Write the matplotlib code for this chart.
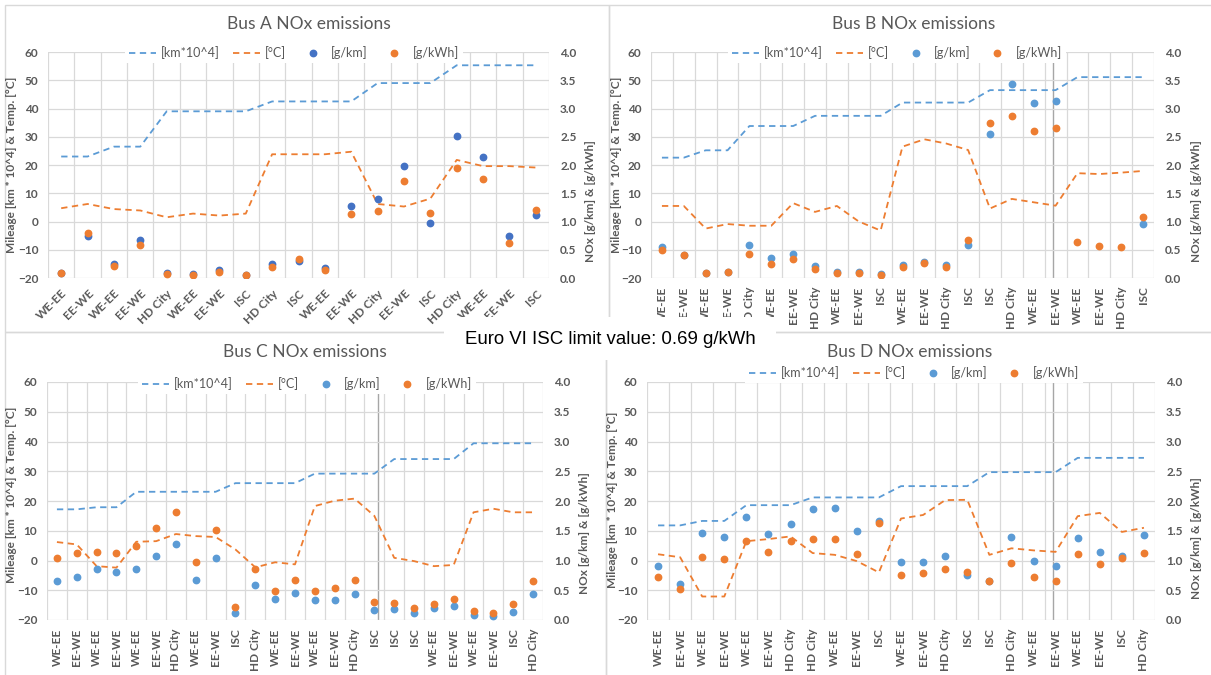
import numpy as np
import matplotlib.pyplot as plt
from matplotlib.patches import Rectangle
from matplotlib.lines import Line2D
from matplotlib.ticker import FormatStrFormatter

plt.rcParams['font.family'] = ['Lato', 'DejaVu Sans']

# canvas size in pixels; panel boxes further down are pixel coords from top-left
W, H = 1211, 675

BLUE = "#5B9BD5"
DARK_BLUE = "#4472C4"
ORANGE = "#ED7D31"
GREY_TXT = "#595959"
GRID = "#D9D9D9"

# Bus A
labels_a = ["WE-EE", "EE-WE", "WE-EE", "EE-WE", "HD City", "WE-EE", "EE-WE", "ISC", "HD City", "ISC",
            "WE-EE", "EE-WE", "HD City", "EE-WE", "ISC", "HD City", "WE-EE", "EE-WE", "ISC"]
mileage_a = [23, 23, 26.5, 26.5, 39, 39, 39, 39, 42.5, 42.5, 42.5, 42.5, 49, 49, 49, 55.3, 55.3, 55.3, 55.3]
temp_a = [4.7, 6.2, 4.4, 3.9, 1.5, 2.8, 2.1, 2.8, 23.8, 23.8, 23.8, 24.7, 6.2, 5.3, 8.1, 21.8, 19.6, 19.6, 19.1]
gkm_a = [0.09, 0.74, 0.25, 0.67, 0.09, 0.07, 0.14, 0.06, 0.25, 0.30, 0.18, 1.27, 1.40, 1.99, 0.97, 2.52, 2.14, 0.74, 1.11]
gkwh_a = [0.09, 0.79, 0.22, 0.59, 0.07, 0.06, 0.11, 0.06, 0.19, 0.34, 0.14, 1.13, 1.18, 1.71, 1.15, 1.94, 1.76, 0.62, 1.20]

# Bus B
labels_b = ["WE-EE", "EE-WE", "WE-EE", "EE-WE", "HD City", "WE-EE", "EE-WE", "HD City", "WE-EE", "EE-WE", "ISC",
            "WE-EE", "EE-WE", "HD City", "ISC", "ISC", "HD City", "WE-EE", "EE-WE", "WE-EE", "EE-WE", "HD City", "ISC"]
mileage_b = [22.6, 22.6, 25.2, 25.2, 33.8, 33.8, 33.8, 37.4, 37.4, 37.4, 37.4, 42.1, 42.1, 42.1, 42.1,
             46.5, 46.5, 46.5, 46.5, 51.1, 51.1, 51.1, 51.1]
temp_b = [5.5, 5.5, -2.5, -0.9, -1.5, -1.5, 6.5, 3.4, 5.5, 0, -3.2, 26.5, 29.1, 27.6, 25.3,
          4.6, 8.0, 6.8, 5.6, 17.1, 16.8, 17.3, 17.9]
gkm_b = [0.55, 0.41, 0.09, 0.11, 0.58, 0.35, 0.42, 0.21, 0.10, 0.11, 0.07, 0.23, 0.28, 0.23, 0.58,
         2.54, 3.44, 3.10, 3.14, np.nan, np.nan, np.nan, 0.96]
gkwh_b = [0.50, 0.40, 0.08, 0.10, 0.43, 0.25, 0.34, 0.16, 0.08, 0.08, 0.06, 0.19, 0.26, 0.20, 0.68,
          2.74, 2.87, 2.60, 2.65, 0.64, 0.56, 0.55, 1.08]

# Bus C
labels_c = ["WE-EE", "EE-WE", "WE-EE", "EE-WE", "WE-EE", "EE-WE", "HD City", "WE-EE", "EE-WE", "ISC", "HD City",
            "WE-EE", "EE-WE", "WE-EE", "EE-WE", "HD City", "ISC", "ISC", "ISC", "WE-EE", "EE-WE", "WE-EE",
            "EE-WE", "ISC", "HD City"]
mileage_c = [17.2, 17.2, 17.9, 17.9, 23.1, 23.1, 23.1, 23.1, 23.1, 26.0, 26.0, 26.0, 26.0,
             29.2, 29.2, 29.2, 29.2, 34.1, 34.1, 34.1, 34.1, 39.4, 39.4, 39.4, 39.4]
temp_c = [6.2, 5.4, -1.9, -2.4, 6.3, 6.5, 8.9, 8.2, 7.9, 3.7, -2.3, -0.6, -1.3, 18.3, 20.1, 20.8, 15.0,
          0.9, -0.2, -1.9, -1.5, 16.2, 17.4, 16.2, 16.2]
gkm_c = [0.66, 0.73, 0.85, 0.81, 0.86, 1.07, 1.28, 0.68, 1.04, 0.11, 0.59, 0.35, 0.46, 0.33, 0.34, 0.44,
         0.17, 0.18, 0.11, 0.20, 0.23, 0.09, 0.06, 0.14, 0.43]
gkwh_c = [1.04, 1.13, 1.15, 1.13, 1.25, 1.54, 1.81, 0.97, 1.52, 0.22, 0.85, 0.48, 0.68, 0.48, 0.53, 0.68,
          0.31, 0.28, 0.20, 0.27, 0.35, 0.15, 0.11, 0.27, 0.66]

# Bus D
labels_d = ["WE-EE", "EE-WE", "WE-EE", "EE-WE", "WE-EE", "EE-WE", "HD City", "HD City", "WE-EE", "EE-WE", "ISC",
            "WE-EE", "EE-WE", "HD City", "ISC", "ISC", "HD City", "WE-EE", "EE-WE", "WE-EE", "EE-WE", "ISC", "HD City"]
mileage_d = [11.8, 11.8, 13.3, 13.3, 18.6, 18.6, 18.6, 21.2, 21.2, 21.2, 21.2, 25.0, 25.0, 25.0, 25.0,
             29.7, 29.7, 29.7, 29.7, 34.5, 34.5, 34.5, 34.5]
temp_d = [2.1, 1.1, -12.1, -12.1, 6.5, 7.2, 8.1, 2.5, 1.9, -0.2, -4.0, 14.1, 15.3, 20.3, 20.4,
          1.9, 4.1, 3.4, 2.9, 14.9, 16.0, 9.6, 11.0]
gkm_d = [0.91, 0.60, 1.47, 1.39, 1.73, 1.44, 1.62, 1.87, 1.89, 1.49, 1.67, 0.97, 0.97, 1.08, 0.76,
         0.66, 1.39, 0.99, 0.91, 1.37, 1.15, 1.08, 1.43]
gkwh_d = [0.73, 0.52, 1.06, 1.03, 1.33, 1.15, 1.33, 1.36, 1.36, 1.11, 1.63, 0.76, 0.79, 0.85, 0.80,
          0.66, 0.95, 0.72, 0.66, 1.11, 0.94, 1.05, 1.13]

series_names = ["[km*10^4]", "[°C]", "[g/km]", "[g/kWh]"]

fig = plt.figure(figsize=(W / 100, H / 100), dpi=100)


def fx(px):
    return px / W


def fy(py):
    return 1 - py / H


def draw_panel(box, labels, mileage, temp, gkm, gkwh, dot_blue, rot, title, title_xy,
               legend_xy, ylab_xy, y2lab_xy, mark_x=None):
    l, t, r, b = box
    ax = fig.add_axes([fx(l), fy(b), (r - l) / W, (b - t) / H])
    ax2 = ax.twinx()
    ax.patch.set_visible(False)
    x = np.arange(len(labels))

    ax.plot(x, mileage, color=BLUE, lw=1.3, dashes=(3.5, 2.5))
    ax.plot(x, temp, color=ORANGE, lw=1.3, dashes=(3.5, 2.5))
    ax2.plot(x, gkm, "o", color=dot_blue, ms=4.6)
    ax2.plot(x, gkwh, "o", color=ORANGE, ms=4.6)

    ax.set_xlim(-0.5, len(labels) - 0.5)
    ax.set_ylim(-20, 60)
    ax.set_yticks(np.arange(-20, 61, 10))
    ax2.set_ylim(0, 4)
    ax2.set_yticks(np.arange(0, 4.01, 0.5))
    ax2.yaxis.set_major_formatter(FormatStrFormatter("%.1f"))

    ax.set_xticks(x)
    if rot == 45:
        ax.set_xticklabels(labels, rotation=45, ha="right", rotation_mode="anchor")
        xpad = 7
    else:
        ax.set_xticklabels(labels, rotation=90)
        xpad = 6
    ax.set_xticks(np.arange(len(labels) + 1) - 0.5, minor=True)
    ax.grid(True, which="minor", axis="x", color=GRID, lw=0.9)
    ax.grid(True, which="major", axis="y", color=GRID, lw=0.9)
    ax.set_axisbelow(True)
    if mark_x is not None:
        ax.axvline(mark_x, color="#A6A6A6", lw=1.0, zorder=0.5)

    for a in (ax, ax2):
        for s in a.spines.values():
            s.set_visible(False)
    ax.tick_params(which="both", length=0, labelsize=8.5, labelcolor=GREY_TXT)
    ax.tick_params(axis="y", pad=7)
    ax.tick_params(axis="x", pad=xpad)
    ax2.tick_params(which="both", length=0, labelsize=8.5, labelcolor=GREY_TXT, pad=8)
    for lbl in ax.get_xticklabels() + ax.get_yticklabels() + ax2.get_yticklabels():
        lbl.set_fontweight("bold")

    handles = [Line2D([], [], color=BLUE, lw=1.3, dashes=(3.5, 2.5)),
               Line2D([], [], color=ORANGE, lw=1.3, dashes=(3.5, 2.5)),
               Line2D([], [], color=dot_blue, marker="o", ls="none", ms=4.6),
               Line2D([], [], color=ORANGE, marker="o", ls="none", ms=4.6)]
    leg = ax2.legend(handles, series_names, loc="center", ncol=4,
                     bbox_to_anchor=(fx(legend_xy[0]), fy(legend_xy[1])),
                     bbox_transform=fig.transFigure, fontsize=9, handlelength=2.2,
                     columnspacing=1.0, handletextpad=0.4, borderpad=0.3,
                     fancybox=False, framealpha=1)
    leg.get_frame().set_facecolor("white")
    leg.get_frame().set_edgecolor("none")
    for txt in leg.get_texts():
        txt.set_color(GREY_TXT)

    fig.text(fx(title_xy[0]), fy(title_xy[1]), title, ha="center", va="center",
             fontsize=12.5, color=GREY_TXT)
    fig.text(fx(ylab_xy[0]), fy(ylab_xy[1]), "Mileage [km * 10^4] & Temp. [°C]",
             rotation=90, ha="center", va="center", fontsize=8.5, fontweight="bold", color=GREY_TXT)
    fig.text(fx(y2lab_xy[0]), fy(y2lab_xy[1]), "NOx [g/km] & [g/kWh]",
             rotation=90, ha="center", va="center", fontsize=8.5, fontweight="bold", color=GREY_TXT)


draw_panel((48, 52, 549, 278), labels_a, mileage_a, temp_a, gkm_a, gkwh_a, DARK_BLUE, 45,
           "Bus A NOx emissions", (309, 24), (294, 53), (12, 165), (591, 201))
draw_panel((651, 52, 1154, 278), labels_b, mileage_b, temp_b, gkm_b, gkwh_b, BLUE, 90,
           "Bus B NOx emissions", (914, 24), (897, 53), (616, 165), (1196, 201), mark_x=17.9)
draw_panel((47, 382, 543, 620), labels_c, mileage_c, temp_c, gkm_c, gkwh_c, BLUE, 90,
           "Bus C NOx emissions", (305, 352), (307, 384), (12, 495), (585, 533), mark_x=16.17)
draw_panel((647, 382, 1155, 620), labels_d, mileage_d, temp_d, gkm_d, gkwh_d, BLUE, 90,
           "Bus D NOx emissions", (910, 352), (914, 373), (613, 500), (1197, 538), mark_x=17.87)

# light frames around the four chart panels
for (l, t, r, b) in [(5, 5, 609, 332), (609, 5, 1216, 332), (5, 332, 606, 680), (606, 332, 1216, 680)]:
    fig.add_artist(Rectangle((fx(l), fy(b)), (r - l) / W, (b - t) / H, transform=fig.transFigure,
                             facecolor="none", edgecolor=GRID, lw=1.0, zorder=0.2))

# caption box in the middle, sitting over the panel edges
fig.add_artist(Rectangle((fx(444), fy(360)), (776 - 444) / W, (360 - 317) / H, transform=fig.transFigure,
                         facecolor="white", edgecolor="none", zorder=10))
fig.text(fx(610), fy(340), "Euro VI ISC limit value: 0.69 g/kWh", ha="center", va="center",
         family="Liberation Sans", fontsize=13.4, color="black", zorder=11)

fig.savefig("out.png", dpi=100)
